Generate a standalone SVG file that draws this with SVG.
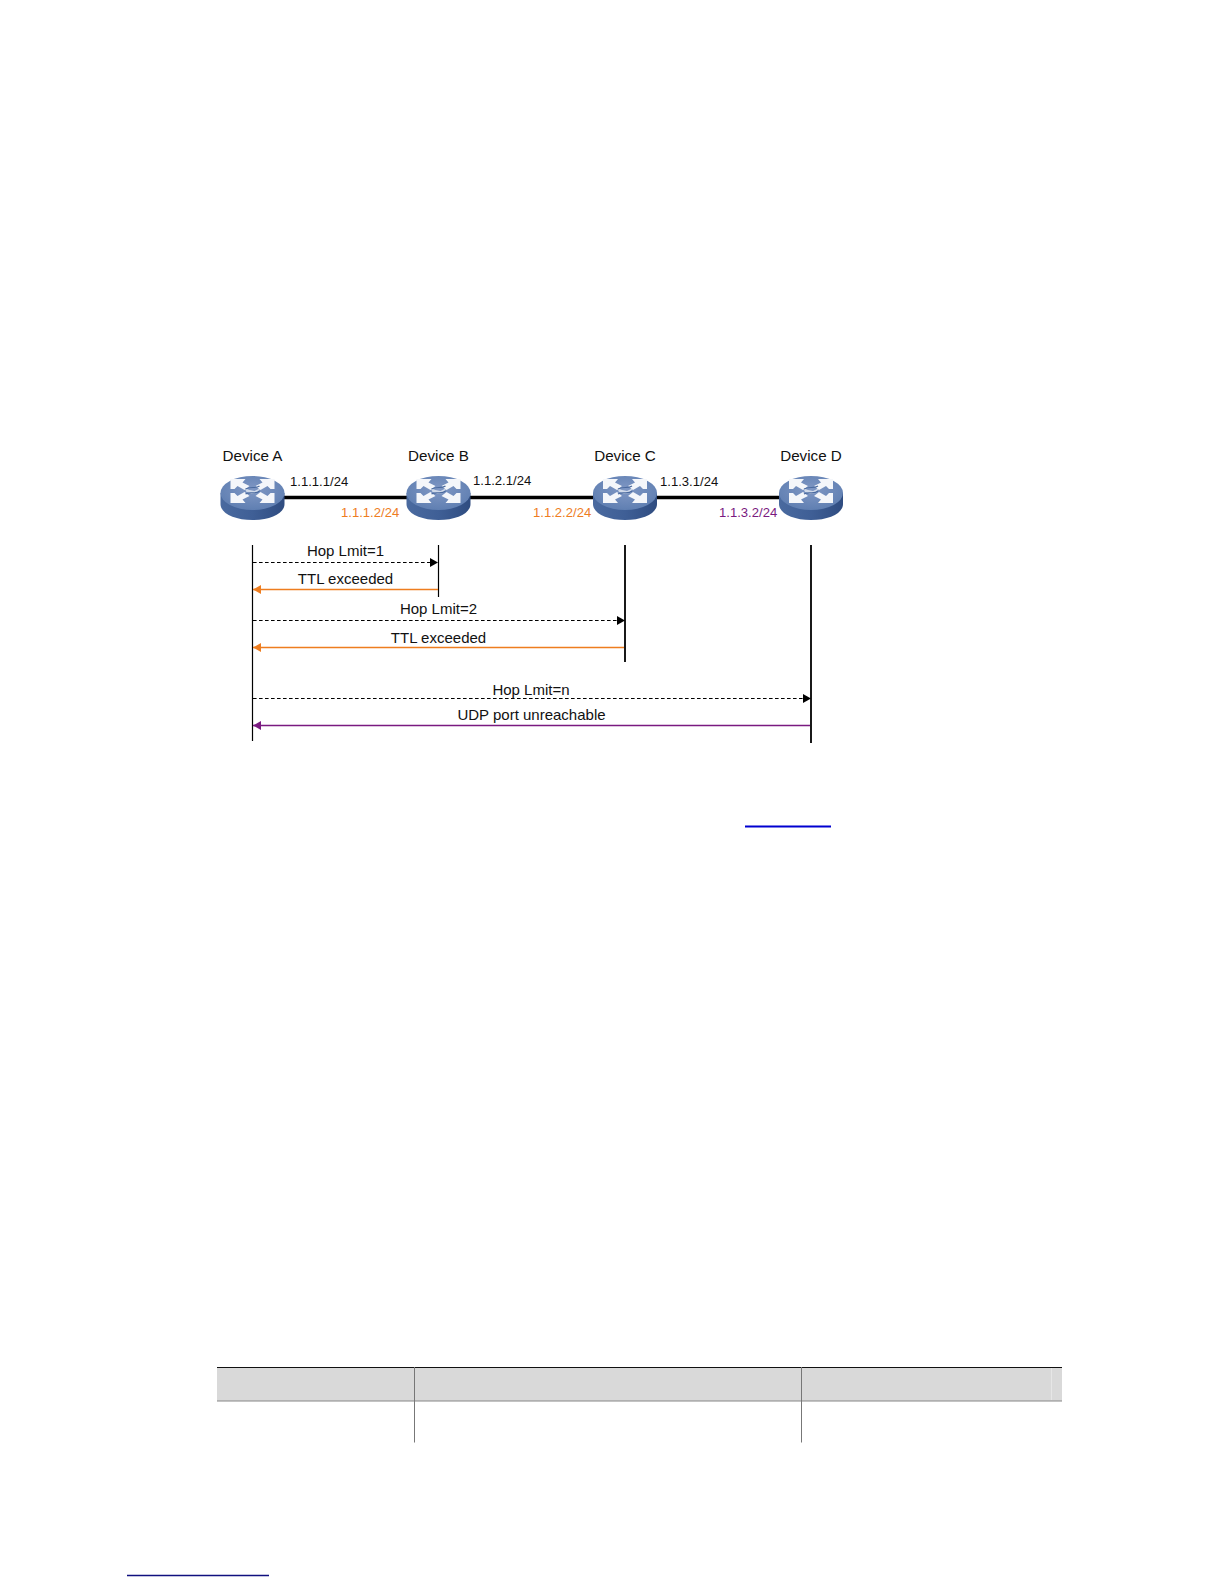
<svg xmlns="http://www.w3.org/2000/svg" xmlns:xlink="http://www.w3.org/1999/xlink" width="1224" height="1584" viewBox="0 0 1224 1584">
<style>
text{font-family:"Liberation Sans",Arial,sans-serif;fill:#111}
.dev{font-size:15.200px;text-anchor:middle}
.ip{font-size:13.100px}
.msg{font-size:15px;text-anchor:middle}
.or{fill:#ee7d1f}
.pu{fill:#7a1a80}
.life{stroke:#000;fill:none}
.link{stroke:#000;stroke-width:3.400;fill:none}
.dash{stroke:#000;stroke-width:1.200;stroke-dasharray:3.600 2.400;fill:none;marker-end:url(#ab)}
.oline{stroke:#ee7d1f;stroke-width:1.300;fill:none;marker-end:url(#ao)}
.pline{stroke:#7a1a80;stroke-width:1.300;fill:none;marker-end:url(#ap)}
</style>
<defs>
<marker id="ab" markerUnits="userSpaceOnUse" markerWidth="10" markerHeight="10" refX="8" refY="4.500" orient="auto"><path d="M0 0L8 4.500L0 9Z" fill="#000"/></marker>
<marker id="ao" markerUnits="userSpaceOnUse" markerWidth="10" markerHeight="10" refX="8" refY="4.500" orient="auto"><path d="M0 0L8 4.500L0 9Z" fill="#ee7d1f"/></marker>
<marker id="ap" markerUnits="userSpaceOnUse" markerWidth="10" markerHeight="10" refX="8" refY="4.500" orient="auto"><path d="M0 0L8 4.500L0 9Z" fill="#7a1a80"/></marker>
<linearGradient id="side" x1="0" x2="1" y1="0" y2="0"><stop offset="0" stop-color="#4a6a9f"/><stop offset="0.5" stop-color="#3f5f96"/><stop offset="1" stop-color="#2f4c80"/></linearGradient>
<radialGradient id="top" cx="0.5" cy="0.4" r="0.65"><stop offset="0" stop-color="#7f97c4"/><stop offset="1" stop-color="#5d7db0"/></radialGradient>
<g id="router">
<path d="M-32 -4V7C-32 16.500 -18 23 0 23C18 23 32 16.500 32 7V-4Z" fill="url(#side)"/>
<ellipse cx="0" cy="-4" rx="32" ry="17" fill="url(#top)"/>
<g fill="#f4f6fa">
<path d="M-22 -18L-7 -18L-10 -14.500L-3 -11L-8 -7L-15 -11L-18 -8L-22 -8Z"/>
<path d="M22 -18L7 -18L10 -14.500L3 -11L8 -7L15 -11L18 -8L22 -8Z"/>
<path d="M-22 6L-7 6L-10 2.500L-3 -1L-8 -5L-15 -1L-18 -4L-22 -4Z"/>
<path d="M22 6L7 6L10 2.500L3 -1L8 -5L15 -1L18 -4L22 -4Z"/>
<path d="M-8 -9L-3 -7L2 -6L8 -9L5 -4L-1 -3L-6 -5Z" opacity="0.7"/>
</g>
<path d="M-7 -3C-3 -6 3 -2 7 -6M-7 -8C-2 -11 3 -8 7 -11" stroke="#4a6a9f" stroke-width="1.200" fill="none"/>
</g>
</defs>
<g id="links">
<path class="link" d="M284 497.500H407"/>
<path class="link" d="M469 497.500H594"/>
<path class="link" d="M656 497.500H780"/>
</g>
<g id="device-a"><use href="#router" x="252.500" y="497"/><text class="dev" x="252.500" y="461">Device A</text></g>
<g id="device-b"><use href="#router" x="438.500" y="497"/><text class="dev" x="438.500" y="461">Device B</text></g>
<g id="device-c"><use href="#router" x="625" y="497"/><text class="dev" x="625" y="461">Device C</text></g>
<g id="device-d"><use href="#router" x="811" y="497"/><text class="dev" x="811" y="461">Device D</text></g>
<g id="ip-labels">
<text class="ip" x="290" y="486">1.1.1.1/24</text>
<text class="ip" x="473" y="485">1.1.2.1/24</text>
<text class="ip" x="660" y="486">1.1.3.1/24</text>
<text class="ip or" x="341" y="517">1.1.1.2/24</text>
<text class="ip or" x="533" y="517">1.1.2.2/24</text>
<text class="ip pu" x="719" y="517">1.1.3.2/24</text>
</g>
<g id="connectors">
<path class="life" stroke-width="1.200" d="M252.500 545V741"/>
<path class="life" stroke-width="1.200" d="M438.500 545V597"/>
<path class="life" stroke-width="1.800" d="M625 545V662"/>
<path class="life" stroke-width="1.800" d="M811 545V743"/>
<path class="dash" d="M253 562.500H438"/>
<path class="oline" d="M438 589.500H253"/>
<path class="dash" d="M253 620.500H625"/>
<path class="oline" d="M624 647.500H253"/>
<path class="dash" d="M253 698.500H811"/>
<path class="pline" d="M810 725.500H253"/>
</g>
<g id="messages">
<text class="msg" x="345.500" y="556">Hop Lmit=1</text>
<text class="msg" x="345.500" y="584">TTL exceeded</text>
<text class="msg" x="438.500" y="614">Hop Lmit=2</text>
<text class="msg" x="438.500" y="643">TTL exceeded</text>
<text class="msg" x="531" y="695">Hop Lmit=n</text>
<text class="msg" x="531.500" y="720">UDP port unreachable</text>
</g>
<path d="M745 826.500H831" stroke="#0000d0" stroke-width="2" fill="none"/>
<g id="table" fill="none">
<rect x="217" y="1367" width="845" height="34" fill="#d9d9d9"/>
<path d="M217 1367.500H1062" stroke="#111" stroke-width="1"/>
<path d="M217 1401H1062" stroke="#888" stroke-width="1.200"/>
<path d="M414.500 1367V1442.500M801.500 1367V1442.500" stroke="#777" stroke-width="1"/>
<path d="M1051.500 1368V1400" stroke="#e6e6e6" stroke-width="1"/>
</g>
<path d="M127 1575.500H269" stroke="#10107f" stroke-width="1.600" fill="none"/>
</svg>
